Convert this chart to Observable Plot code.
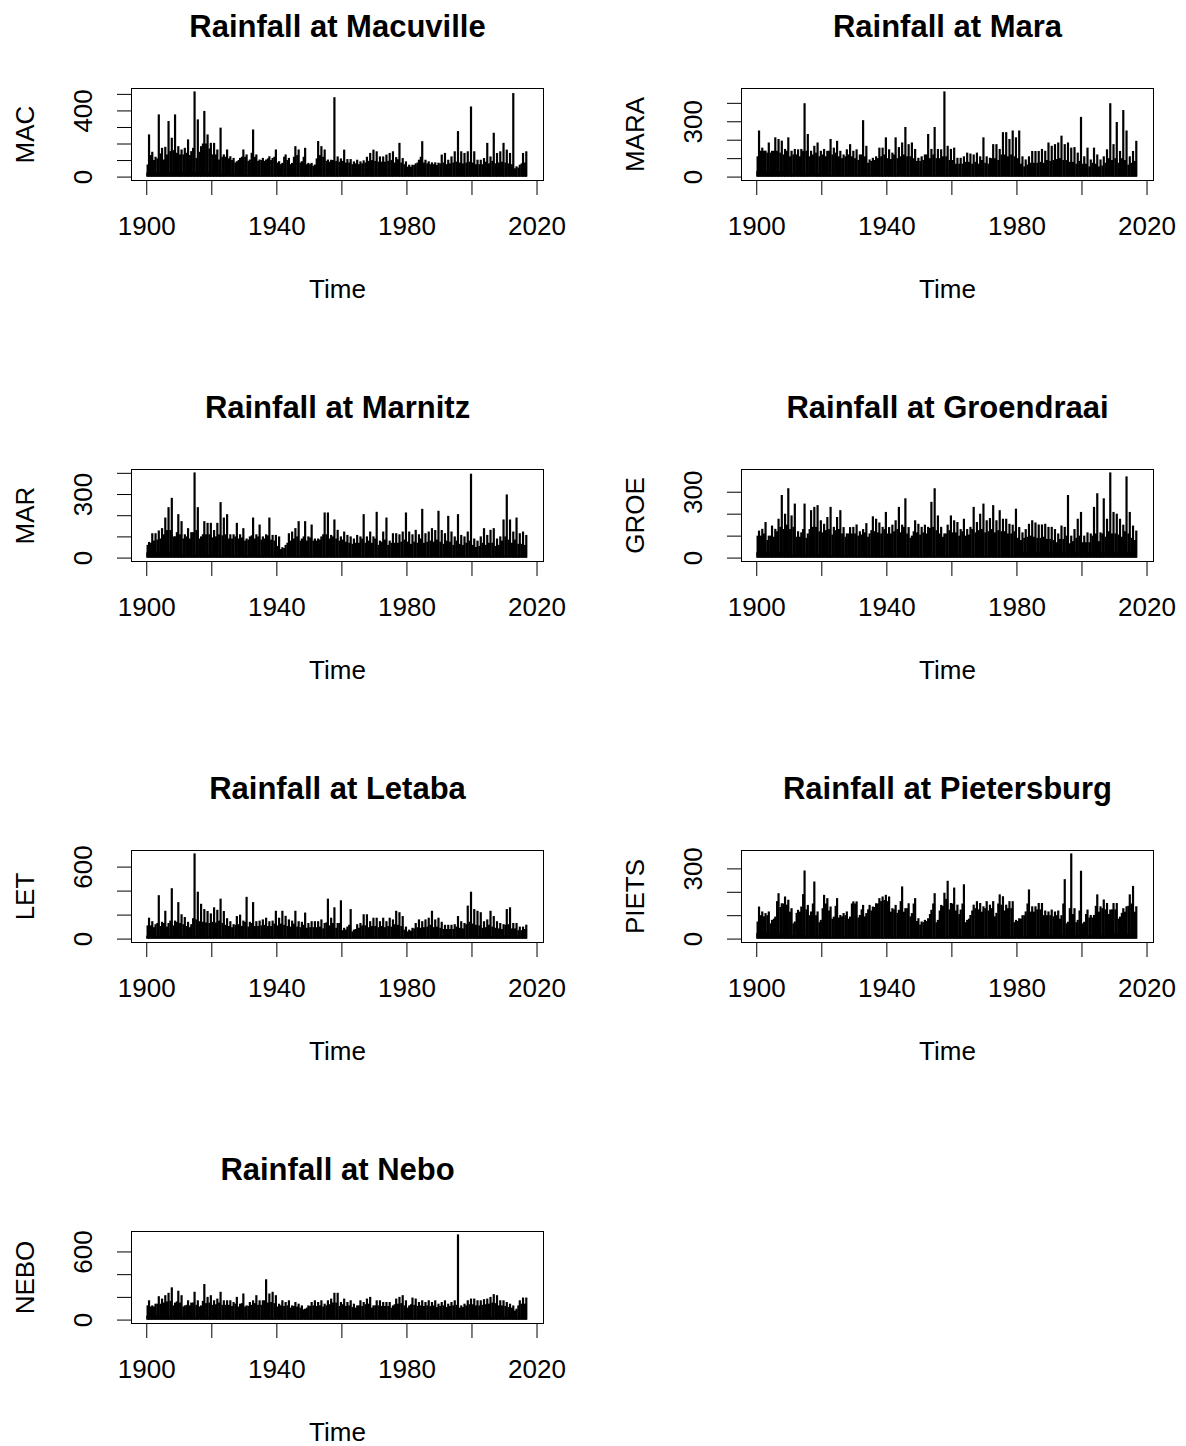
<!DOCTYPE html>
<html><head><meta charset="utf-8">
<script src="https://cdn.jsdelivr.net/npm/d3@7"></script>
<script src="https://cdn.jsdelivr.net/npm/@observablehq/plot@0.6"></script>
<style>
html,body{margin:0;padding:0;background:#fff;overflow:hidden}
#root{position:relative;width:1186px;height:1446px;background:#fff}
.panel{position:absolute}
</style></head><body><div id="root"></div>
<script>
// Monthly rainfall summarised per hydrological year (1900..2016):
// peak = highest monthly value of the year, band = level of the bulk of the wet-season months,
// floor = dry-season level per decade (1900s..2010s).
const startYear = 1900;
const dataStart = 1900, dataEnd = 2017.3;
const xTicks = [1900, 1920, 1940, 1960, 1980, 2000, 2020];
const xLabels = [1900, 1940, 1980, 2020];

const macPeak = [
 255,150,120,376,174,180,336,235,376,184,
 164,174,225,154,515,346,184,397,255,204,
 204,164,296,134,164,123,113,93,113,164,
 134,103,285,134,103,113,103,123,113,164,
 93,83,134,113,83,184,164,93,174,83,
 83,73,215,184,164,103,102,480,122,110,
 163,106,106,92,102,92,98,120,143,163,
 153,122,122,133,143,153,118,204,112,92,
 72,72,80,102,214,102,92,86,86,84,
 133,143,102,122,153,275,153,143,153,424,
 153,102,102,112,204,122,265,143,153,204,
 163,143,505,62,72,143,153];
const macBand = [
 73,130,100,110,140,103,134,154,160,144,
 134,134,144,130,174,113,150,200,200,170,
 134,134,103,120,120,110,100,85,100,120,
 120,95,144,120,95,100,95,110,100,120,
 85,75,120,100,75,120,130,85,120,75,
 75,65,110,130,120,95,90,100,95,90,
 95,85,85,75,80,75,80,85,95,100,
 95,90,90,90,95,100,85,105,85,75,
 60,60,70,85,120,85,80,75,75,70,
 80,85,75,80,85,90,85,80,85,90,
 85,75,75,75,90,80,95,80,85,90,
 85,80,75,50,55,80,85];
const macFloor = [25,25,15,10,10,8,8,8,5,5,5,5];

const maraPeak = [
 250,157,140,185,140,213,204,195,150,213,
 140,150,148,150,398,231,140,167,185,140,
 150,140,204,157,194,140,120,148,176,140,
 148,120,306,167,93,102,110,157,157,213,
 148,130,213,160,185,269,176,185,150,102,
 110,120,231,150,269,150,148,462,167,150,
 157,102,102,110,130,125,120,130,110,213,
 110,102,176,176,150,241,241,204,250,213,
 250,110,93,110,139,139,139,150,140,185,
 167,176,185,222,176,185,157,160,130,324,
 110,157,93,157,120,93,110,148,398,176,
 296,139,361,250,110,139,194];
const maraBand = [
 110,140,140,130,130,140,140,130,120,140,
 110,120,120,110,140,140,110,120,130,110,
 120,110,140,120,130,110,100,110,120,110,
 100,90,120,110,75,85,90,100,110,120,
 100,95,120,100,110,120,110,110,100,85,
 85,90,120,100,120,100,100,110,110,90,
 90,70,70,70,80,80,70,80,70,90,
 75,70,100,100,90,120,120,110,120,110,
 100,70,55,65,75,75,75,80,75,90,
 85,90,95,100,90,90,80,80,70,85,
 70,70,55,75,70,55,60,75,100,90,
 100,75,100,90,65,75,85];
const maraFloor = [30,15,8,8,8,8,5,5,5,5,5,5];

const marPeak = [
 74,115,115,128,139,189,238,282,100,205,
 172,110,139,120,402,238,100,172,164,164,
 130,164,262,189,205,110,110,164,110,139,
 90,100,189,110,156,100,110,189,107,107,
 100,49,60,115,123,139,172,90,172,100,
 156,90,90,100,213,213,107,180,131,100,
 123,107,100,90,107,100,205,100,123,100,
 216,80,123,189,80,115,115,110,123,213,
 123,110,131,110,230,115,123,139,130,221,
 130,115,197,123,100,205,107,100,123,396,
 90,80,100,139,107,131,139,90,100,180,
 298,180,123,189,115,123,107];
const marBand = [
 60,70,80,85,90,110,130,130,100,120,
 110,90,100,90,120,130,90,110,110,110,
 95,100,110,105,110,90,90,100,90,95,
 80,85,105,90,100,85,90,105,85,80,
 55,40,45,70,80,90,100,80,100,80,
 95,80,80,85,110,110,90,100,90,80,
 85,75,70,65,70,70,90,70,80,70,
 90,60,75,85,60,70,70,70,75,85,
 75,65,75,70,90,70,75,80,75,85,
 75,65,80,75,60,80,65,60,70,80,
 60,50,55,70,60,70,70,55,60,80,
 100,85,70,85,65,65,60];
const marFloor = [25,15,10,10,8,8,5,5,5,5,10,10];

const groePeak = [
 123,131,162,100,146,131,177,285,200,316,
 192,246,120,115,246,110,216,231,239,170,
 154,185,231,140,185,216,139,110,139,140,
 151,120,130,157,110,188,177,160,140,208,
 139,150,170,231,150,270,139,100,170,154,
 140,150,140,254,316,192,140,110,150,192,
 170,162,130,177,130,140,231,162,200,246,
 170,180,239,170,216,177,177,154,150,223,
 139,115,130,154,170,160,151,151,154,140,
 140,130,110,146,140,285,100,130,177,208,
 100,115,110,231,293,115,270,177,388,208,
 200,177,150,370,208,146,123];
const groeBand = [
 100,100,110,80,100,95,120,140,130,150,
 130,140,95,95,130,90,130,140,140,120,
 115,125,130,105,125,130,110,95,110,110,
 110,100,105,115,95,125,120,115,110,130,
 110,110,120,130,115,140,110,90,120,115,
 105,115,110,135,140,125,110,95,110,125,
 115,115,100,120,100,105,130,115,125,130,
 115,120,130,115,125,120,120,110,110,120,
 90,80,90,95,100,95,90,90,95,85,
 85,80,70,85,85,100,65,75,90,100,
 70,70,70,100,110,75,110,95,120,110,
 110,105,95,120,110,90,80];
const groeFloor = [25,15,10,8,8,8,8,8,25,25,25,25];

const letPeak = [
 174,145,120,362,140,232,130,420,150,304,
 203,180,140,120,710,391,290,246,230,210,
 261,240,333,230,170,145,120,188,200,150,
 348,140,304,145,150,160,174,145,150,232,
 174,232,190,160,150,232,145,140,217,130,
 145,145,145,160,130,333,174,261,130,319,
 90,100,246,75,120,130,203,203,145,174,
 174,145,174,145,174,160,232,220,188,100,
 75,90,130,160,145,160,174,232,160,174,
 140,115,115,115,120,188,145,130,275,391,
 246,232,220,145,160,232,188,145,130,120,
 246,261,130,130,100,100,116];
const letBand = [
 110,110,95,130,105,130,100,150,110,140,
 130,120,105,95,170,160,145,140,135,130,
 140,135,150,130,115,105,95,115,120,105,
 140,100,130,105,105,110,115,105,105,125,
 110,125,115,105,100,125,100,95,115,90,
 95,95,95,100,85,135,110,130,90,130,
 70,75,115,60,80,90,110,110,95,105,
 105,95,105,95,105,100,120,115,105,75,
 60,65,85,95,90,95,100,115,95,100,
 90,80,80,80,80,100,90,85,120,140,
 125,115,110,90,95,115,100,90,85,80,
 115,120,85,85,70,70,80];
const letFloor = [25,20,15,15,15,15,15,15,15,15,25,25];

const pietsPeak = [
 137,116,109,116,80,94,194,151,180,166,
 130,73,123,137,291,144,116,244,116,80,
 187,173,137,94,173,101,109,116,94,159,
 159,101,144,109,144,137,151,173,180,187,
 180,130,144,123,223,130,151,109,173,87,
 73,80,87,123,194,80,144,196,247,152,
 218,145,124,232,80,101,145,160,152,138,
 160,145,160,110,189,181,145,160,160,80,
 87,100,116,210,138,138,152,152,120,116,
 124,116,120,100,254,72,364,130,80,290,
 72,124,101,101,189,138,167,152,124,152,
 152,94,130,138,189,225,138];
const pietsBand = [
 73,100,95,100,65,85,160,135,150,145,
 115,65,110,115,190,125,100,150,100,70,
 130,150,120,85,140,90,95,100,85,150,
 150,90,125,95,125,120,135,150,160,165,
 160,115,125,110,160,115,130,95,150,75,
 60,70,75,105,150,70,120,140,170,125,
 150,120,105,150,70,85,120,130,125,115,
 130,120,130,95,150,145,120,130,130,70,
 75,85,100,150,115,115,125,125,100,100,
 100,95,100,85,150,65,130,105,70,120,
 65,105,90,90,140,115,130,125,105,125,
 125,85,110,115,140,150,115];
const pietsFloor = [25,15,8,8,8,8,10,10,10,15,15,20];

const neboPeak = [
 170,125,140,206,185,215,236,284,150,254,
 215,125,170,150,245,170,125,313,200,215,
 170,185,245,170,170,170,155,200,140,230,
 125,155,170,215,170,170,355,230,245,215,
 140,170,155,170,125,155,140,125,96,125,
 155,170,155,170,140,170,185,236,236,155,
 185,155,170,140,125,170,155,185,200,125,
 170,170,155,155,155,125,185,200,215,170,
 125,194,185,155,170,155,170,155,170,140,
 155,170,140,155,170,750,125,140,170,185,
 185,170,170,180,185,200,224,215,170,170,
 155,140,125,96,170,194,194];
const neboBand = [
 125,115,115,140,140,150,160,165,125,160,
 150,115,130,125,150,130,115,165,145,150,
 130,135,150,130,130,130,120,140,115,145,
 115,120,130,145,130,130,170,150,155,145,
 115,125,120,125,105,120,115,105,90,105,
 120,125,120,125,115,125,135,150,150,120,
 135,120,125,110,105,125,120,135,140,105,
 125,125,120,120,120,105,135,140,145,125,
 105,135,130,120,125,120,125,120,125,110,
 120,125,110,120,125,130,105,110,125,135,
 135,125,125,130,135,140,150,145,125,125,
 120,110,105,80,125,140,140];
const neboFloor = [35,25,15,15,15,15,15,15,15,15,25,25];

const stations = [
  {title: "Rainfall at Macuville", code: "MAC", peak: macPeak, band: macBand, floor: macFloor, yTicks: [0,100,200,300,400,500], yLabels: [0,400]},
  {title: "Rainfall at Mara", code: "MARA", peak: maraPeak, band: maraBand, floor: maraFloor, yTicks: [0,100,200,300,400], yLabels: [0,300]},
  {title: "Rainfall at Marnitz", code: "MAR", peak: marPeak, band: marBand, floor: marFloor, yTicks: [0,100,200,300,400], yLabels: [0,300]},
  {title: "Rainfall at Groendraai", code: "GROE", peak: groePeak, band: groeBand, floor: groeFloor, yTicks: [0,100,200,300], yLabels: [0,300]},
  {title: "Rainfall at Letaba", code: "LET", peak: letPeak, band: letBand, floor: letFloor, yTicks: [0,200,400,600], yLabels: [0,600]},
  {title: "Rainfall at Pietersburg", code: "PIETS", peak: pietsPeak, band: pietsBand, floor: pietsFloor, yTicks: [0,100,200,300], yLabels: [0,300]},
  {title: "Rainfall at Nebo", code: "NEBO", peak: neboPeak, band: neboBand, floor: neboFloor, yTicks: [0,200,400,600], yLabels: [0,600]}
];

const font = '"Liberation Sans", Arial, Helvetica, sans-serif';

function panel(s) {
  const rows = s.peak.map((p, i) => ({
    year: startYear + i, peak: p, band: s.band[i], floor: s.floor[Math.floor(i / 10)]
  }));
  const ymin = 0, ymax = d3.max(s.peak);
  const xr = dataEnd - dataStart, yr = ymax - ymin;
  return Plot.plot({
    width: 576, height: 303,
    marginLeft: 131, marginRight: 33, marginTop: 88, marginBottom: 123,
    style: {fontFamily: font, fontSize: "26px", color: "black", background: "white", overflow: "visible"},
    x: {domain: [dataStart - 0.04 * xr, dataEnd + 0.04 * xr], label: null},
    y: {domain: [ymin - 0.04 * yr, ymax + 0.04 * yr], label: null},
    marks: [
      Plot.rect(rows, {x1: "year", x2: d => d.year + 1, y1: 0, y2: "floor", fill: "black"}),
      Plot.rect(rows, {x1: d => d.year + 0.08, x2: d => d.year + 1, y1: 0, y2: "band", fill: "black"}),
      Plot.ruleX(rows, {x: d => d.year + 0.7, y1: 0, y2: "peak", stroke: "black", strokeWidth: 2.2}),
      Plot.frame({stroke: "black", strokeWidth: 1}),
      Plot.axisX({ticks: xTicks, tickSize: 15, tickPadding: 21, fontSize: 26, label: null,
                  tickFormat: d => xLabels.includes(d) ? String(d) : ""}),
      Plot.axisY({ticks: s.yTicks, tickSize: 14, label: null, tickFormat: () => ""}),
      Plot.text(s.yLabels, {y: d => d, text: d => String(d), frameAnchor: "left", rotate: -90,
                            dx: -40, lineAnchor: "bottom", textAnchor: "middle", fontSize: 26}),
      Plot.text([s.code], {text: d => d, frameAnchor: "left", rotate: -90, dx: -98,
                           lineAnchor: "bottom", textAnchor: "middle", fontSize: 26}),
      Plot.text([s.title], {text: d => d, frameAnchor: "top", dy: -52, lineAnchor: "bottom",
                            fontSize: 31, fontWeight: "bold"}),
      Plot.text(["Time"], {text: d => d, frameAnchor: "bottom", dy: 117, lineAnchor: "bottom", fontSize: 26})
    ]
  });
}

const root = document.getElementById("root");
stations.forEach((s, i) => {
  const div = document.createElement("div");
  div.className = "panel";
  div.style.left = (i % 2) * 610 + "px";
  div.style.top = Math.floor(i / 2) * 381 + "px";
  div.appendChild(panel(s));
  root.appendChild(div);
});
</script></body></html>
